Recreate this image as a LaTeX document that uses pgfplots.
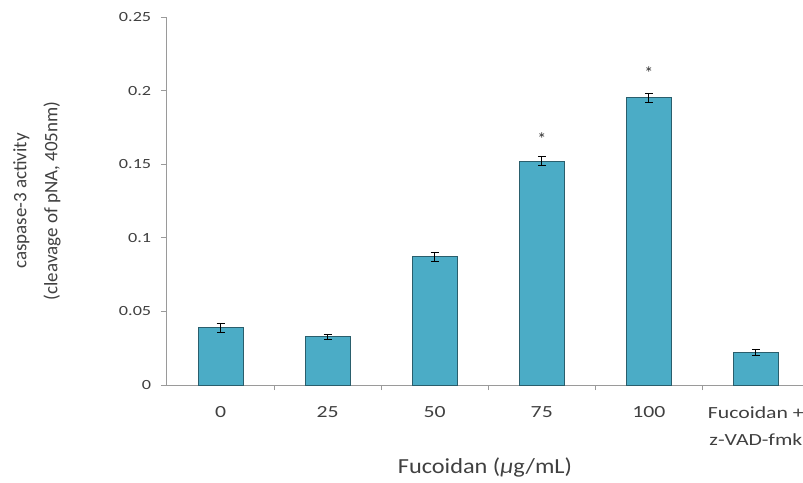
\documentclass[border=0pt]{standalone}
\usepackage{fontspec}
\setmainfont{Carlito}
\usepackage{pgfplots}
\pgfplotsset{compat=1.18}
\definecolor{barfill}{HTML}{4BACC6}
\definecolor{bardraw}{HTML}{2A5E6C}
\definecolor{axgray}{HTML}{9A9A9A}
\begin{document}
\begin{tikzpicture}[x=1pt,y=1pt]
\begin{axis}[
  at={(167pt,97pt)}, anchor=south west,
  scale only axis, width=636pt, height=368pt,
  xmin=-0.5, xmax=5.44, ymin=0, ymax=0.25,
  axis lines=left, axis line style={-, axgray, line width=1pt},
  xtick={0,1,2,3,4,5},
  xticklabels={0,25,50,75,100,{Fucoidan +\\z-VAD-fmk}},
  xticklabel style={align=center, font=\fontsize{17}{27}\selectfont, text=black!75, xscale=1.28, yshift=-12pt},
  major x tick style={draw=none},
  minor xtick={0.5,1.5,2.5,3.5,4.5},
  minor tick length=5pt,
  minor x tick style={axgray, line width=0.8pt},
  xtick pos=bottom, tick align=outside,
  ytick={0,0.05,0.1,0.15,0.2,0.25},
  yticklabels={0,0.05,0.1,0.15,0.2,0.25},
  yticklabel style={font=\fontsize{14}{15}\selectfont, text=black!75, xscale=1.3, xshift=-4pt},
  major y tick style={axgray, line width=0.8pt},
  major tick length=6pt,
  ytick pos=left,
  xlabel={Fucoidan (\textit{µ}g/mL)},
  xlabel style={at={(axis description cs:0.5,-0.225)}, anchor=center,
    font=\fontsize{21.5}{24}\selectfont, text=black!75, xscale=1.13},
  ylabel={caspase-3 activity\\(cleavage of pNA, 405nm)},
  ylabel style={at={(axis description cs:-0.2044,0.5)}, anchor=center,
    align=center, font=\fontsize{19}{31}\selectfont, text=black!75},
  clip=false,
]
\addplot[ybar, bar width=45pt, fill=barfill, draw=bardraw, line width=1pt,
  error bars/.cd, y dir=both, y explicit,
  error bar style={black, line width=1pt},
  error mark options={rotate=90, mark size=4pt, black, line width=1pt}]
coordinates {
  (0,0.0390) +- (0,0.0030)
  (1,0.0328) +- (0,0.0017)
  (2,0.0872) +- (0,0.0030)
  (3,0.1520) +- (0,0.0030)
  (4,0.1950) +- (0,0.0033)
  (5,0.0220) +- (0,0.0020)
};
\addplot[draw=none, mark=none, nodes near coords={*},
  every node near coord/.append style={anchor=center, font=\fontsize{18}{18}\selectfont, text=black!80}]
coordinates {(3,0.167) (4,0.212)};
\end{axis}
\pgfresetboundingbox
\path[use as bounding box] (0,0) rectangle (803,482);
\end{tikzpicture}
\end{document}
